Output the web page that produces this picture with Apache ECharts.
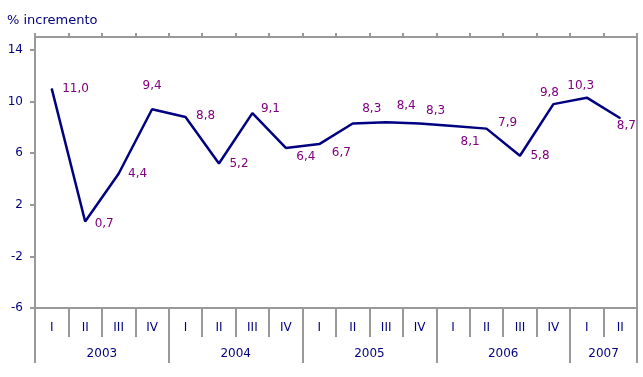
<!DOCTYPE html>
<html>
<head>
<meta charset="utf-8">
<script src="https://cdn.jsdelivr.net/npm/echarts@6/dist/echarts.min.js"></script>
<style>
  html, body { margin: 0; padding: 0; background: #fff; }
  #chart { width: 643px; height: 377px; }
</style>
</head>
<body>
<div id="chart"></div>
<script>
// datos
const quarters = ['I', 'II', 'III', 'IV', 'I', 'II', 'III', 'IV', 'I', 'II', 'III', 'IV', 'I', 'II', 'III', 'IV', 'I', 'II'];
const years = ['2003', '2004', '2005', '2006', '2007'];
const quartersPerYear = [4, 4, 4, 4, 2];
const increment = [11.0, 0.7, 4.4, 9.4, 8.8, 5.2, 9.1, 6.4, 6.7, 8.3, 8.4, 8.3, 8.1, 7.9, 5.8, 9.8, 10.3, 8.7];
const yTicks = { min: -6, max: 15, interval: 4 };

// desplazamiento de cada etiqueta respecto a la posición 'right'
const labelOffsets = [
    [5, 0], [4, 2], [4, 0], [-15, -23], [5, -1], [5, 0], [3, -4], [5, 9], [7, 9],
    [4, -15], [5, -16], [1, -13], [2, 16], [6, -6], [5, 0], [-19, -11], [-25, -12], [-9, 8]
];

// eje de años: medias posiciones de trimestre (boundaryGap false)
let yearAxisData = [];
let yearTickIdx = [0];
let yearLabelIdx = {};
let pos = 0;
years.forEach((y, i) => {
    yearLabelIdx[pos * 2 + quartersPerYear[i]] = y;
    pos += quartersPerYear[i];
    yearTickIdx.push(pos * 2);
});
for (let k = 0; k <= pos * 2; k++) {
    yearAxisData.push(yearLabelIdx[k] || '');
}

const font = 'DejaVu Sans';
const navy = '#000080';
const gray = '#999999';

let myChart = echarts.init(document.getElementById('chart'));
let option = {
    animation: false,
    title: {
        text: '% incremento',
        left: 2,
        top: 9,
        textStyle: { color: navy, fontFamily: font, fontSize: 13, fontWeight: 'normal' }
    },
    grid: { left: 35, right: 6, top: 37, bottom: 69 },
    xAxis: [{
        type: 'category',
        data: quarters,
        position: 'bottom',
        axisLine: { onZero: false, lineStyle: { color: gray, width: 2 } },
        axisTick: { show: true, interval: 0, length: 29, lineStyle: { color: gray, width: 2 } },
        axisLabel: { interval: 0, margin: 14, color: navy, fontFamily: font, fontSize: 12 },
        splitLine: { show: false }
    }, {
        type: 'category',
        data: yearAxisData,
        boundaryGap: false,
        position: 'bottom',
        axisLine: { show: false, onZero: false },
        axisTick: {
            show: true,
            interval: (idx) => yearTickIdx.indexOf(idx) >= 0,
            length: 55,
            lineStyle: { color: gray, width: 2 }
        },
        axisLabel: {
            interval: (idx) => yearAxisData[idx] !== '',
            margin: 40,
            color: navy,
            fontFamily: font,
            fontSize: 12
        },
        splitLine: { show: false }
    }, {
        type: 'category',
        data: quarters,
        position: 'top',
        axisLine: { onZero: false, lineStyle: { color: gray, width: 2 } },
        axisTick: { show: true, interval: 0, length: 4, lineStyle: { color: gray, width: 2 } },
        axisLabel: { show: false },
        splitLine: { show: false }
    }],
    yAxis: [{
        type: 'value',
        min: yTicks.min,
        max: yTicks.max,
        interval: yTicks.interval,
        axisLine: { show: true, onZero: false, lineStyle: { color: gray, width: 2 } },
        axisTick: { show: true, length: 5, lineStyle: { color: gray, width: 2 } },
        axisLabel: { showMaxLabel: false, margin: 12, color: navy, fontFamily: font, fontSize: 12 },
        splitLine: { show: false }
    }, {
        type: 'value',
        min: yTicks.min,
        max: yTicks.max,
        interval: yTicks.interval,
        position: 'right',
        axisLine: { show: true, onZero: false, lineStyle: { color: gray, width: 2 } },
        axisTick: { show: false },
        axisLabel: { show: false },
        splitLine: { show: false }
    }],
    series: [{
        type: 'line',
        xAxisIndex: 0,
        yAxisIndex: 0,
        data: increment.map((v, i) => ({
            value: v,
            label: { offset: labelOffsets[i] }
        })),
        symbol: 'circle',
        symbolSize: 1,
        showSymbol: true,
        itemStyle: { color: navy },
        lineStyle: { color: navy, width: 2.5 },
        label: {
            show: true,
            position: 'right',
            distance: 5,
            color: '#800080',
            fontFamily: font,
            fontSize: 12,
            formatter: (p) => p.value.toFixed(1).replace('.', ',')
        }
    }]
};
myChart.setOption(option);
</script>
</body>
</html>
